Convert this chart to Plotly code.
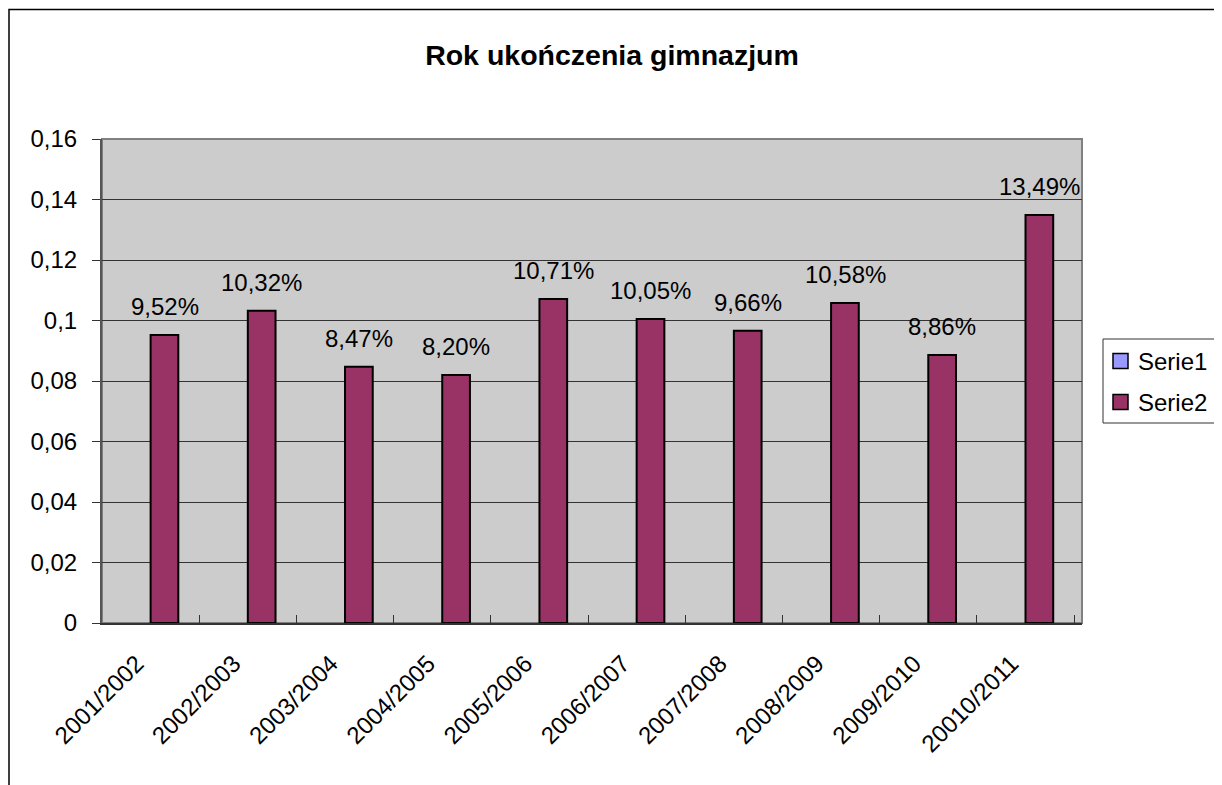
import plotly.graph_objects as go

categories = ["2001/2002", "2002/2003", "2003/2004", "2004/2005", "2005/2006",
              "2006/2007", "2007/2008", "2008/2009", "2009/2010", "20010/2011"]
serie1 = [None] * 10
serie2 = [0.0952, 0.1032, 0.0847, 0.0820, 0.1071, 0.1005, 0.0966, 0.1058, 0.0886, 0.1349]
series_names = ["Serie1", "Serie2"]
series_colors = ["#9999FF", "#993366"]
ytick_vals = [0, 0.02, 0.04, 0.06, 0.08, 0.1, 0.12, 0.14, 0.16]
ytick_text = ["0", "0,02", "0,04", "0,06", "0,08", "0,1", "0,12", "0,14", "0,16"]
title = "Rok ukończenia gimnazjum"

FONT = "Liberation Sans, Arial, sans-serif"

# page has an 8px body margin; figure is sized/positioned to compensate
W, H = 1214, 777
L, T, R, B = 94, 131, 140, 162
PW, PH = W - L - R, H - T - B


def px(X):
    return (X - L) / PW


def py(Y):
    return (T + PH - Y) / PH


fig = go.Figure()
for name, col, vals in zip(series_names, series_colors, [serie1, serie2]):
    fig.add_trace(go.Bar(name=name, x=categories, y=vals, showlegend=False,
                         marker=dict(color=col, line=dict(color="#000000", width=2))))

labels = [("%.2f" % (v * 100)).replace(".", ",") + "%" for v in serie2]
for c, v, t in zip(categories, serie2, labels):
    fig.add_annotation(x=c, y=v, text=t, showarrow=False, xshift=14,
                       yanchor="bottom", yshift=13,
                       font=dict(family=FONT, size=24, color="#000"))

# plot area border
fig.add_shape(type="rect", xref="paper", yref="paper", x0=0, x1=1, y0=0, y1=1,
              line=dict(color="#808080", width=2), layer="below")
# outer chart border
fig.add_shape(type="rect", xref="paper", yref="paper",
              x0=px(1), x1=1.3, y0=-0.5, y1=py(1.5),
              line=dict(color="#000000", width=1.5), layer="above")

# legend box (drawn manually to match Excel's compact legend)
fig.add_shape(type="rect", xref="paper", yref="paper",
              x0=px(1095), x1=px(1208), y0=py(415), y1=py(331),
              line=dict(color="#333333", width=1), fillcolor="white", layer="above")
for i, (name, col) in enumerate(zip(series_names, series_colors)):
    yc = 353 + 41 * i
    fig.add_shape(type="rect", xref="paper", yref="paper",
                  x0=px(1105), x1=px(1120), y0=py(yc + 7.5), y1=py(yc - 7.5),
                  line=dict(color="#000000", width=1.5), fillcolor=col, layer="above")
    fig.add_annotation(xref="paper", yref="paper", x=px(1128), y=py(yc),
                       xanchor="left", yanchor="middle", text=name, showarrow=False,
                       font=dict(family=FONT, size=24, color="#000"))

fig.update_layout(
    width=W, height=H,
    margin=dict(l=L, r=R, t=T, b=B, autoexpand=False),
    paper_bgcolor="white", plot_bgcolor="#CCCCCC",
    barmode="group", bargap=0.43, bargroupgap=0,
    font=dict(family=FONT, size=24, color="#000"),
    title=dict(text="<b>" + title + "</b>", x=604 / W, xanchor="center",
               y=1 - 47 / H, yanchor="middle",
               font=dict(family=FONT, size=28.5, color="#000")),
    showlegend=False,
    xaxis=dict(showgrid=False, ticks="inside", tickson="boundaries", ticklen=8,
               tickcolor="#333", tickangle=-45, showline=True, linecolor="#333",
               linewidth=2, ticklabelshift=-14, ticklabelstandoff=15,
               tickfont=dict(family=FONT, size=24)),
    yaxis=dict(range=[0, 0.16], tickvals=ytick_vals, ticktext=ytick_text,
               showgrid=True, gridcolor="#333333", gridwidth=1,
               ticks="outside", ticklen=8, tickcolor="#333",
               showline=True, linecolor="#555", linewidth=2,
               ticklabelstandoff=10, zeroline=False,
               tickfont=dict(family=FONT, size=24)),
)

fig.write_html("out.html")
